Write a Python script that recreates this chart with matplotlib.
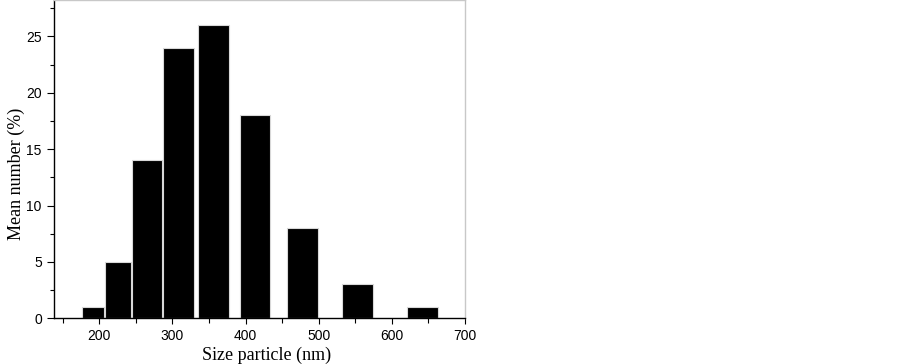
import matplotlib.pyplot as plt
from matplotlib.ticker import MultipleLocator

# bin edges (nm) and percentages
bin_left = [177, 208, 245, 287, 335, 392, 457, 532, 621]
bin_right = [206, 243, 286, 329, 378, 434, 499, 574, 663]
mean_number = [1, 5, 14, 24, 26, 18, 8, 3, 1]

widths = [r - l for l, r in zip(bin_left, bin_right)]

fig = plt.figure(figsize=(9.03, 3.64), dpi=100)
ax = fig.add_axes([0.0601, 0.1255, 0.4549, 0.8735])

ax.bar(bin_left, mean_number, width=widths, align='edge',
       color='black', edgecolor='#d8d8d8', linewidth=0.8)

ax.set_xlim(138.5, 700)
ax.set_ylim(0, 28.2)
ax.xaxis.set_major_locator(MultipleLocator(100))
ax.xaxis.set_minor_locator(MultipleLocator(50))
ax.yaxis.set_major_locator(MultipleLocator(5))
ax.yaxis.set_minor_locator(MultipleLocator(2.5))
ax.set_xticks(range(200, 701, 100))

ax.tick_params(which='both', direction='out', top=False, right=False,
               width=0.8, labelsize=10)
ax.tick_params(axis='x', which='major', length=4, pad=4)
ax.tick_params(axis='x', which='minor', length=3.5)
ax.tick_params(axis='y', which='major', length=5, pad=4)
ax.tick_params(axis='y', which='minor', length=3)
for lab in ax.get_xticklabels() + ax.get_yticklabels():
    lab.set_family(['Liberation Sans', 'DejaVu Sans'])

for side in ['left', 'bottom']:
    ax.spines[side].set_color('black')
    ax.spines[side].set_linewidth(1.0)
for side in ['top', 'right']:
    ax.spines[side].set_color('#c8c8c8')
    ax.spines[side].set_linewidth(1.0)

ax.set_xlabel('Size particle (nm)', family=['Liberation Serif', 'DejaVu Serif'],
              fontsize=13, labelpad=2)
ax.xaxis.label.set_x(0.517)
ax.set_ylabel('Mean number (%)', family=['Liberation Serif', 'DejaVu Serif'],
              fontsize=13)
ax.yaxis.set_label_coords(-0.072, 0.453)

fig.savefig('out.png', dpi=100)
